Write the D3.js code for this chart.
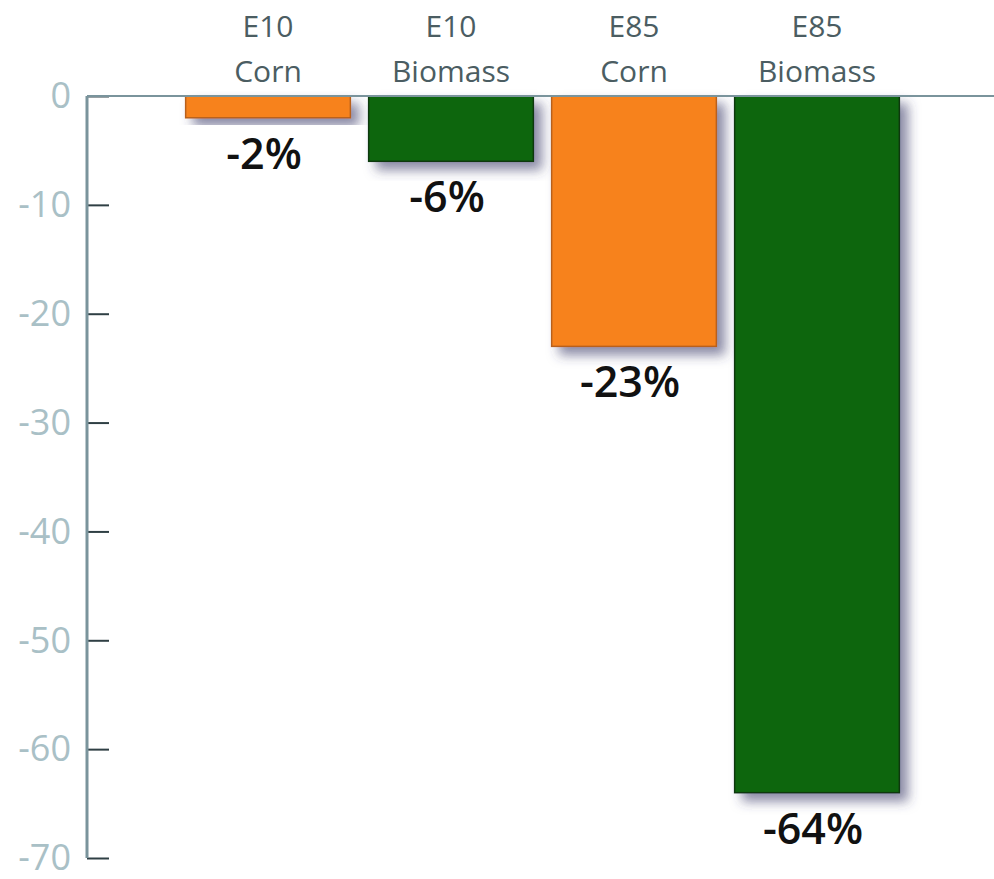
<!DOCTYPE html>
<html>
<head>
<meta charset="utf-8">
<script src="https://cdn.jsdelivr.net/npm/d3@7"></script>
<style>
  html, body { margin: 0; padding: 0; background: #fff; }
  svg { display: block; }
</style>
</head>
<body>
<script>
// Change in emissions by fuel blend and feedstock (%)
const categories = ["E10 Corn", "E10 Biomass", "E85 Corn", "E85 Biomass"];
const categoryLines = [["E10", "Corn"], ["E10", "Biomass"], ["E85", "Corn"], ["E85", "Biomass"]];
const values = [-2, -6, -23, -64];
const feedstock = ["corn", "biomass", "corn", "biomass"];
const yTicks = [0, -10, -20, -30, -40, -50, -60, -70];

const W = 994, H = 879;
const fill = { corn: "#f7821f", biomass: "#0b660b" };
const edge = { corn: "#b8611a", biomass: "#083808" };

const svg = d3.select("body").append("svg").attr("width", W).attr("height", H);

const defs = svg.append("defs");
const f = defs.append("filter").attr("id", "barShadow")
  .attr("x", "-20%").attr("y", "-20%").attr("width", "150%").attr("height", "150%");
f.append("feDropShadow").attr("dx", 8).attr("dy", 8).attr("stdDeviation", 6)
  .attr("flood-color", "#3a3a6a").attr("flood-opacity", 0.6);

const x = d3.scaleBand().domain(categories).range([176.5, 908.5])
  .paddingInner(0.1).paddingOuter(0.05);
const y = d3.scaleLinear().domain([0, -70]).range([96, 858]);

const axisX = 87;

// bars
svg.append("g").selectAll("rect").data(categories).join("rect")
  .attr("x", d => x(d))
  .attr("y", y(0))
  .attr("width", x.bandwidth())
  .attr("height", (d, i) => y(values[i]) - y(0))
  .attr("fill", (d, i) => fill[feedstock[i]])
  .attr("stroke", (d, i) => edge[feedstock[i]])
  .attr("stroke-width", 1.5)
  .attr("filter", "url(#barShadow)");

// y axis
const yAxis = d3.axisRight(y).tickValues(yTicks).tickSize(22).tickFormat("");
const gy = svg.append("g").attr("transform", `translate(${axisX},0)`).call(yAxis);
gy.select(".domain").remove();
gy.selectAll(".tick line").attr("stroke", "#2f3f44").attr("stroke-width", 2);
svg.append("line").attr("x1", axisX).attr("x2", axisX).attr("y1", y(0)).attr("y2", y(-70))
  .attr("stroke", "#7a949c").attr("stroke-width", 3);
svg.append("line").attr("x1", axisX).attr("x2", W).attr("y1", y(0)).attr("y2", y(0))
  .attr("stroke", "#7a949c").attr("stroke-width", 2);

// tick labels
svg.append("g").selectAll("text").data(yTicks).join("text")
  .attr("x", 71).attr("y", d => y(d)).attr("dy", "0.34em")
  .attr("text-anchor", "end")
  .attr("font-family", "'Open Sans', sans-serif").attr("font-size", 36)
  .attr("fill", "#a9c0c6")
  .text(d => d);

// category labels
const cl = svg.append("g").selectAll("text").data(categories).join("text")
  .attr("text-anchor", "middle")
  .attr("font-family", "'Open Sans', sans-serif").attr("font-size", 30)
  .attr("fill", "#4b5d62");
cl.each(function(d, i) {
  const t = d3.select(this);
  categoryLines[i].forEach((line, j) => {
    t.append("tspan").attr("x", x(d) + x.bandwidth() / 2).attr("y", 37 + j * 45).text(line);
  });
});

// value labels
svg.append("g").selectAll("text").data(categories).join("text")
  .attr("x", d => x(d) + x.bandwidth() / 2 - 4)
  .attr("y", (d, i) => y(values[i]) + 51)
  .attr("text-anchor", "middle")
  .attr("font-family", "'Open Sans', sans-serif").attr("font-size", 43)
  .attr("font-weight", 600)
  .attr("fill", "#111")
  .text((d, i) => values[i] + "%");
</script>
</body>
</html>
